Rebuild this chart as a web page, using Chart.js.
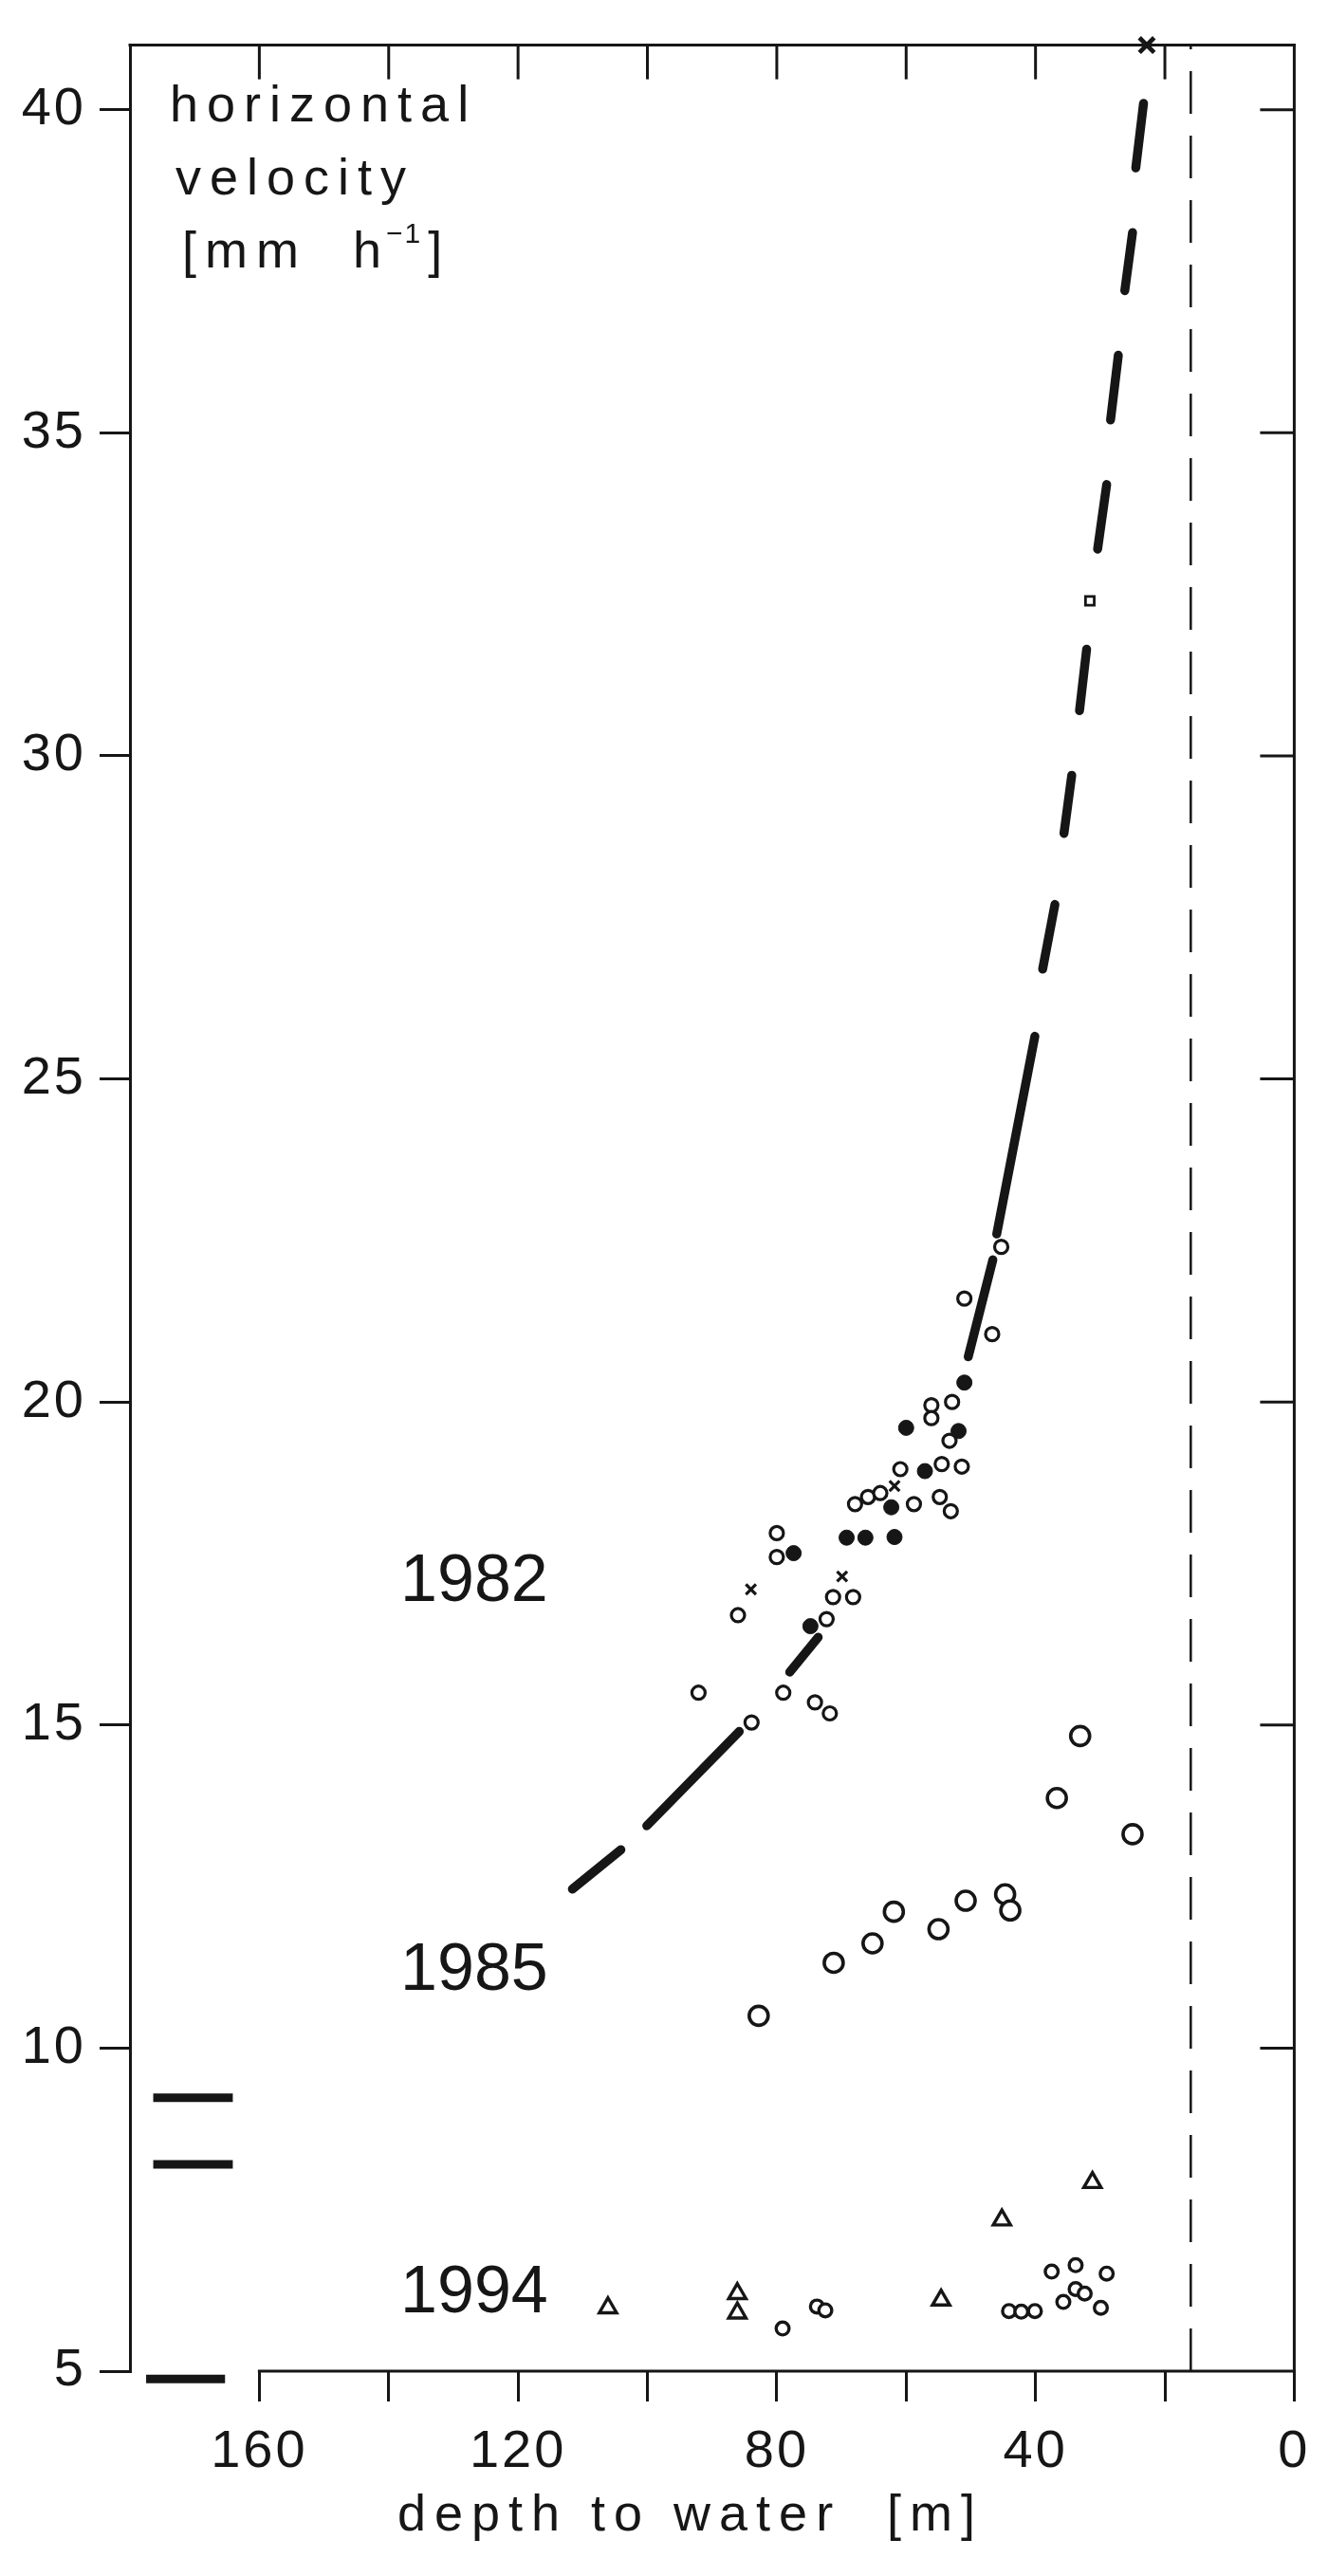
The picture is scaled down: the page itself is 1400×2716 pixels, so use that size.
<!DOCTYPE html>
<html><head><meta charset="utf-8">
<script src="https://cdn.jsdelivr.net/npm/chart.js@4.4.1/dist/chart.umd.min.js"></script>
<style>html,body{margin:0;padding:0;background:#fff;}canvas{display:block;}</style>
</head><body>
<canvas id="c" width="1400" height="2716"></canvas>
<script>
// ---------- data (depth to water [m], horizontal velocity [mm h-1]) ----------
const xTickValues = [160, 140, 120, 100, 80, 60, 40, 20, 0];
const xTickLabels = ['160', '', '120', '', '80', '', '40', '', '0'];
const yTickValues = [5, 10, 15, 20, 25, 30, 35, 40];

const depth1982Open = [45.3, 51.0, 46.7, 52.9, 56.1, 56.1, 53.3, 60.9, 54.5, 51.4, 67.9, 65.9, 64.0, 58.8, 54.8, 53.1, 80.0, 80.0, 71.3, 68.2, 86.0, 72.3, 92.1, 79.0, 74.1, 71.8, 83.9];
const vel1982Open   = [22.4, 21.6, 21.05, 20.0, 19.95, 19.75, 19.4, 18.96, 19.04, 19.0, 18.42, 18.53, 18.59, 18.42, 18.53, 18.31, 17.97, 17.6, 16.98, 16.98, 16.7, 16.64, 15.5, 15.5, 15.35, 15.18, 15.04];

const depth1982Filled = [51.0, 60.0, 51.9, 57.1, 62.3, 69.2, 66.3, 61.8, 77.4, 74.8];
const vel1982Filled   = [20.3, 19.6, 19.55, 18.93, 18.37, 17.9, 17.9, 17.91, 17.66, 16.53];

const depthCross = [61.8, 84.0, 69.9, 22.8];
const velCross   = [18.7, 17.1, 17.3, 41.0];

const depthSquare = [31.6];
const velSquare   = [32.4];

const depth1985 = [82.8, 71.2, 65.2, 61.9, 55.0, 50.8, 44.7, 43.9, 36.7, 33.1, 25.0];
const vel1985   = [10.5, 11.32, 11.62, 12.11, 11.84, 12.28, 12.38, 12.13, 13.87, 14.83, 13.31];

const depth1994Tri = [106.1, 86.1, 86.1, 54.6, 45.2, 31.2];
const vel1994Tri   = [5.98, 6.2, 5.9, 6.1, 7.34, 7.92];

const depth1994Circ = [79.1, 73.8, 72.5, 44.1, 42.2, 40.1, 37.5, 33.8, 29.0, 33.8, 32.4, 35.7, 29.9];
const vel1994Circ   = [5.66, 6.0, 5.94, 5.93, 5.92, 5.93, 6.54, 6.64, 6.51, 6.27, 6.2, 6.07, 5.98];

// fitted curve, drawn as separate dashes (null = gap)
const curveDepth = [111.6, 104.1, null, 100.1, 85.8, null, 78.0, 73.6, null, 50.4, 46.6, null, 46.0, 40.1, null, 38.9, 37.0, null, 35.6, 34.4, null, 33.2, 32.1, null, 30.4, 29.0, null, 28.4, 27.2, null, 26.2, 25.0, null, 24.5, 23.3];
const curveVel   = [12.46, 13.07, null, 13.44, 14.9, null, 15.82, 16.36, null, 20.7, 22.2, null, 22.6, 25.66, null, 26.7, 27.7, null, 28.8, 29.7, null, 30.7, 31.65, null, 33.2, 34.2, null, 35.2, 36.2, null, 37.2, 38.1, null, 39.1, 40.1];

// short thick bars at the left
const barFrom = [176.4, 176.4, 177.5];
const barTo   = [164.1, 164.1, 165.3];
const barVel  = [9.23, 8.2, 4.88];

// dashed vertical line
const waterDepth = 16.0;
const waterVelRange = [5, 41];

const yearLabels = ['1982', '1985', '1994'];
const yearDepth  = [138.2, 138.2, 138.2];
const yearVel    = [17.2, 11.18, 6.2];

// ---------- helpers ----------
const ink = '#161616';
const pts = (xs, ys) => xs.map((x, i) => ({x: x, y: ys[i]}));
const curveData = curveDepth.map((x, i) => (x === null ? {x: null, y: null} : {x: x, y: curveVel[i]}));
const barData = [];
barFrom.forEach((f, i) => {
  barData.push({x: f, y: barVel[i]}, {x: barTo[i], y: barVel[i]});
  if (i < barFrom.length - 1) barData.push({x: null, y: null});
});
const waterData = waterVelRange.map(v => ({x: waterDepth, y: v}));

const FONT = "'Liberation Sans', Arial, Helvetica, sans-serif";

const framePlugin = {
  id: 'frame',
  beforeDraw(chart) {
    const ctx = chart.ctx;
    ctx.save();
    ctx.fillStyle = '#fff';
    ctx.fillRect(0, 0, chart.width, chart.height);
    ctx.restore();
    ctx.letterSpacing = '3px';
  },
  afterDraw(chart) {
    const {ctx, chartArea: a, scales} = chart;
    const x = scales.x, y = scales.y;
    const seg = (x1, y1, x2, y2) => { ctx.beginPath(); ctx.moveTo(x1, y1); ctx.lineTo(x2, y2); ctx.stroke(); };
    ctx.save();
    ctx.strokeStyle = ink;
    ctx.lineWidth = 3;
    ctx.lineCap = 'square';
    seg(a.left, a.top, a.right, a.top);
    seg(a.right, a.top, a.right, a.bottom);
    seg(x.getPixelForValue(160), a.bottom, a.right, a.bottom);
    ctx.lineCap = 'butt';
    xTickValues.forEach(v => {
      if (v > 0) { const px = x.getPixelForValue(v); seg(px, a.top, px, a.top + 36); }
    });
    yTickValues.forEach(v => {
      if (v > 5) { const py = y.getPixelForValue(v); seg(a.right - 36, py, a.right, py); }
    });

    // year labels
    ctx.fillStyle = ink;
    ctx.textAlign = 'left';
    ctx.textBaseline = 'middle';
    ctx.letterSpacing = '0px';
    ctx.font = '70px ' + FONT;
    yearLabels.forEach((t, i) => {
      ctx.fillText(t, x.getPixelForValue(yearDepth[i]), y.getPixelForValue(yearVel[i]));
    });

    // y-axis title (inside plot, top-left)
    ctx.textBaseline = 'alphabetic';
    ctx.letterSpacing = '9px';
    ctx.font = '54px ' + FONT;
    const lx = a.left + 42;
    ctx.fillText('horizontal', lx, 128);
    ctx.fillText('velocity', lx + 6, 205);
    let cx = lx + 13;
    const by = 282;
    ctx.fillText('[mm  h', cx, by);
    cx += ctx.measureText('[mm  h').width;
    ctx.letterSpacing = '2px';
    ctx.font = '30px ' + FONT;
    ctx.fillText('\u22121', cx - 4, by - 26);
    cx += ctx.measureText('\u22121').width;
    ctx.letterSpacing = '9px';
    ctx.font = '54px ' + FONT;
    ctx.fillText(']', cx + 2, by);

    // x-axis title
    ctx.textAlign = 'center';
    ctx.fillText('depth to water  [m]', 728, 2668);
    ctx.restore();
  }
};

new Chart(document.getElementById('c'), {
  type: 'scatter',
  plugins: [framePlugin],
  data: {
    datasets: [
      {label: 'fit', data: curveData, showLine: true, spanGaps: false, borderColor: ink, borderWidth: 9.5, borderCapStyle: 'round', pointRadius: 0, clip: false},
      {label: 'bars', data: barData, showLine: true, spanGaps: false, borderColor: ink, borderWidth: 9, pointRadius: 0, clip: false},
      {label: 'water', data: waterData, showLine: true, borderColor: ink, borderWidth: 2.5, borderDash: [45, 23], pointRadius: 0, clip: false},
      {label: '1982 open', data: pts(depth1982Open, vel1982Open), pointStyle: 'circle', pointRadius: 7, borderWidth: 3.2, borderColor: ink, backgroundColor: '#fff', clip: false},
      {label: '1982 filled', data: pts(depth1982Filled, vel1982Filled), pointStyle: 'circle', pointRadius: 8, borderWidth: 1, borderColor: ink, backgroundColor: ink, clip: false},
      {label: 'cross', data: pts(depthCross, velCross), pointStyle: 'crossRot', pointRadius: [7.5, 7.5, 7.5, 11], borderWidth: [3.2, 3.2, 3.2, 4.8], borderColor: ink, clip: false},
      {label: 'square', data: pts(depthSquare, velSquare), pointStyle: 'rect', pointRadius: 6.5, borderWidth: 2.8, borderColor: ink, backgroundColor: '#fff', clip: false},
      {label: '1985', data: pts(depth1985, vel1985), pointStyle: 'circle', pointRadius: 10, borderWidth: 3.6, borderColor: ink, backgroundColor: '#fff', clip: false},
      {label: '1994 tri', data: pts(depth1994Tri, vel1994Tri), pointStyle: 'triangle', pointRadius: 10.5, borderWidth: 3.4, borderColor: ink, backgroundColor: '#fff', clip: false},
      {label: '1994 circ', data: pts(depth1994Circ, vel1994Circ), pointStyle: 'circle', pointRadius: 6.8, borderWidth: 3.4, borderColor: ink, backgroundColor: '#fff', clip: false}
    ]
  },
  options: {
    responsive: false,
    animation: false,
    devicePixelRatio: 1,
    events: [],
    layout: {padding: {top: 38, right: 34, left: 0, bottom: 0}},
    plugins: {legend: {display: false}, tooltip: {enabled: false}, title: {display: false}},
    scales: {
      x: {
        type: 'linear', position: 'bottom', reverse: true, min: 0, max: 180,
        afterFit: s => { s.height = 216; },
        afterBuildTicks: s => { s.ticks = xTickValues.map(v => ({value: v})); },
        border: {display: false},
        grid: {drawOnChartArea: false, drawTicks: true, tickLength: 32, color: ink, lineWidth: 3},
        ticks: {
          autoSkip: false, maxRotation: 0, padding: 20, color: ink,
          font: {family: FONT, size: 56},
          callback: (v) => { const i = xTickValues.indexOf(v); return i >= 0 ? xTickLabels[i] : ''; }
        }
      },
      y: {
        type: 'linear', position: 'left', min: 5, max: 41,
        afterFit: s => { s.width = 137; },
        afterBuildTicks: s => { s.ticks = yTickValues.map(v => ({value: v})); },
        border: {display: true, color: ink, width: 3},
        grid: {drawOnChartArea: false, drawTicks: true, tickLength: 32, color: ink, lineWidth: 3},
        ticks: {padding: 14, color: ink, font: {family: FONT, size: 56}, callback: v => String(v)}
      }
    }
  }
});
</script>
</body></html>
